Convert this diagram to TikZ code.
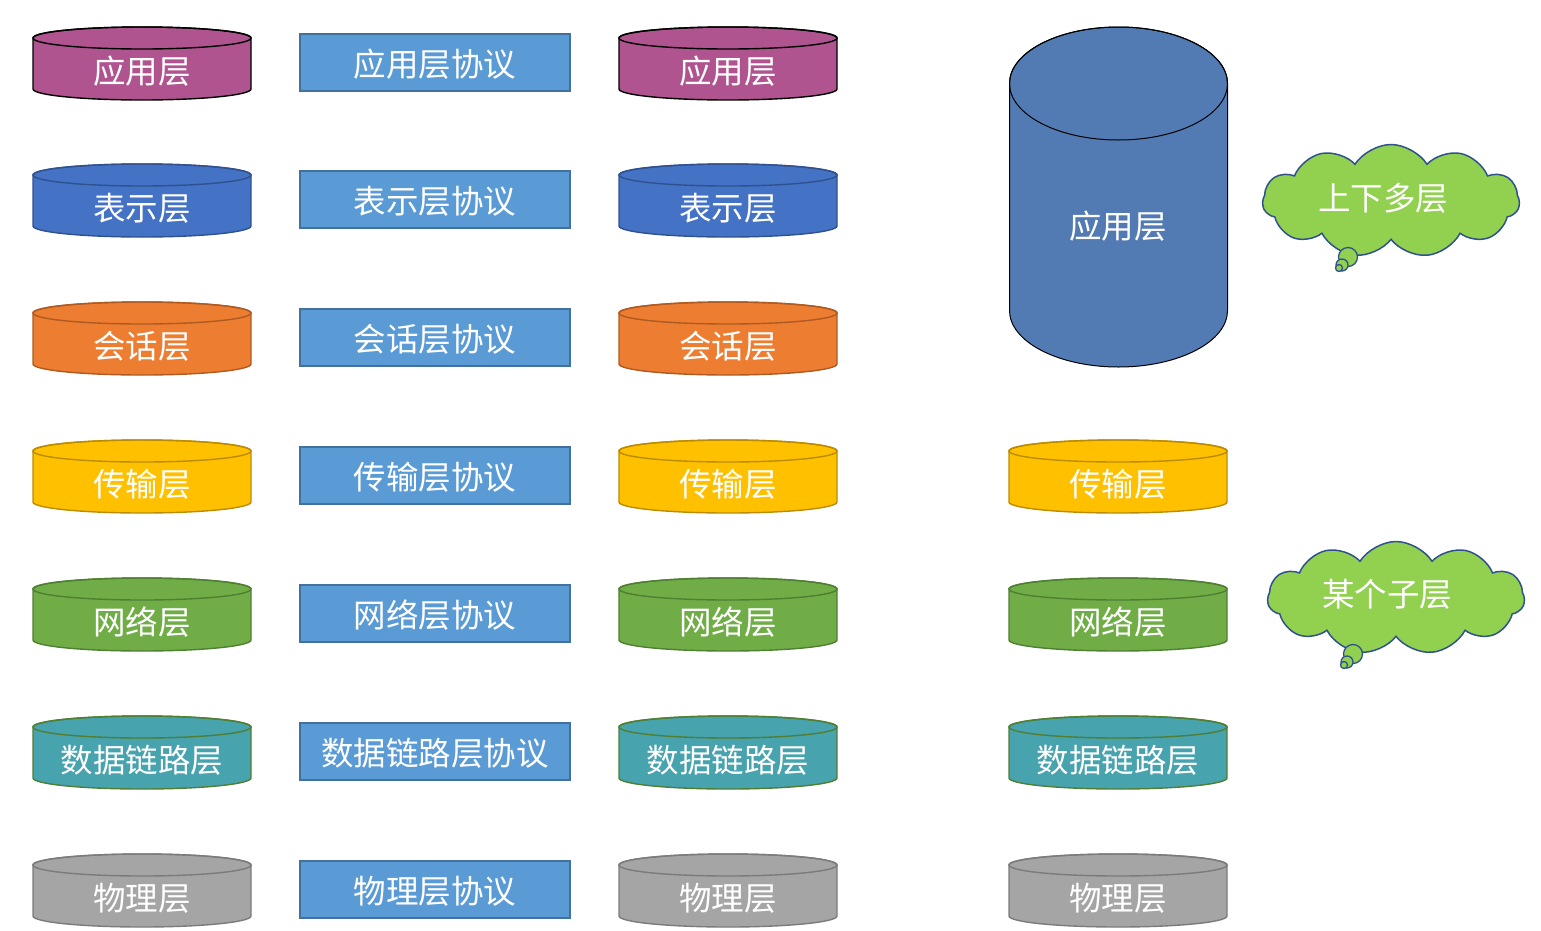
\documentclass[tikz,border=0pt]{standalone}
\usepackage{fontspec}
\newfontfamily\cjk{Noto Sans CJK SC}
\usetikzlibrary{shapes.symbols}
\definecolor{cApp}{HTML}{B05490}
\definecolor{cPre}{HTML}{4472C4}\definecolor{cPreD}{HTML}{2F528F}
\definecolor{cSes}{HTML}{ED7D31}\definecolor{cSesD}{HTML}{AE5A21}
\definecolor{cTra}{HTML}{FFC000}\definecolor{cTraD}{HTML}{BC8C00}
\definecolor{cNet}{HTML}{70AD47}\definecolor{cNetD}{HTML}{507E32}
\definecolor{cDat}{HTML}{47A3AD}
\definecolor{cPhy}{HTML}{A5A5A5}\definecolor{cPhyD}{HTML}{7B7B7B}
\definecolor{cRect}{HTML}{5B9BD5}\definecolor{cRectD}{HTML}{41719C}
\definecolor{cBig}{HTML}{527BB4}
\definecolor{cCloud}{HTML}{92D050}\definecolor{cCloudD}{HTML}{2F528F}
\newcommand\drum[9]{%
 \filldraw[fill=#7,draw=#8,line width=1.4] ({#2-#5},{-(#3+#6)}) -- ({#2-#5},{-(#4-#6)}) arc[start angle=180,end angle=360,x radius=#5,y radius=#6] -- ({#2+#5},{-(#3+#6)}) arc[start angle=0,end angle=180,x radius=#5,y radius=#6] -- cycle;
 \draw[draw=#8,line width=1.4] ({#2},{-(#3+#6)}) ellipse[x radius=#5,y radius=#6];
 \node[lbl] (#1) at ({#2},{-(#3+0.6*(#4-#3))}) {#9};
}
\newcommand\layerrow[6]{% #1 idx, #2 top, #3 fill, #4 draw, #5 text, #6 show col4
 \drum{a#1}{142}{#2}{#2+73}{109}{11}{#3}{#4}{#5}
 \node[proto] (p#1) at (435,{-(#2+35.5)}) {};
 \node[lbl] (q#1) at (435,{-(#2+37)}) {#5协议};
 \drum{b#1}{728}{#2}{#2+73}{109}{11}{#3}{#4}{#5}
 \ifnum#6=1 \drum{c#1}{1118}{#2}{#2+73}{109}{11}{#3}{#4}{#5}\fi
}
\begin{document}
\begin{tikzpicture}[x=1pt,y=1pt,
 lbl/.style={text=white,font=\cjk\fontsize{32.5}{38}\selectfont,inner sep=0pt},
 proto/.style={draw=cRectD,fill=cRect,line width=1.4,minimum width=270,minimum height=57,inner sep=0pt},
 thought/.style={cloud,cloud puffs=11,cloud puff arc=115,aspect=2.3,fill=cCloud,draw=cCloudD,line width=1.5,minimum width=257,minimum height=113},
 bubble/.style={circle,fill=cCloud,draw=cCloudD,line width=1.3,inner sep=0pt}]
\useasboundingbox (0,0) rectangle (1541,-930);
\layerrow{1}{27}{cApp}{black}{应用层}{0}
\layerrow{2}{164}{cPre}{cPreD}{表示层}{0}
\layerrow{3}{302}{cSes}{cSesD}{会话层}{0}
\layerrow{4}{440}{cTra}{cTraD}{传输层}{1}
\layerrow{5}{578}{cNet}{cNetD}{网络层}{1}
\layerrow{6}{716}{cDat}{cNetD}{数据链路层}{1}
\layerrow{7}{854}{cPhy}{cPhyD}{物理层}{1}
% big application cylinder
\filldraw[fill=cBig,draw=black,line width=1] (1009.5,-83.5) -- (1009.5,-310.5) arc[start angle=180,end angle=360,x radius=109,y radius=56.5] -- (1227.5,-83.5) arc[start angle=0,end angle=180,x radius=109,y radius=56.5] -- cycle;
\draw[black,line width=1] (1118.5,-83.5) ellipse[x radius=109,y radius=56.5];
\node[lbl] (big) at (1118,-226) {应用层};
% clouds
\node[thought] (cl1) at (1391,-201) {};
\node[lbl] (t1) at (1383,-198) {上下多层};
\node[bubble,minimum size=19] (b1a) at (1348,-257) {};
\node[bubble,minimum size=12] (b1b) at (1342,-265) {};
\node[bubble,minimum size=7] (b1c) at (1339,-268) {};
\node[thought] (cl2) at (1396,-598) {};
\node[lbl] (t2) at (1387,-594) {某个子层};
\node[bubble,minimum size=19] (b2a) at (1353,-654) {};
\node[bubble,minimum size=12] (b2b) at (1347,-662) {};
\node[bubble,minimum size=7] (b2c) at (1344,-665) {};
\end{tikzpicture}
\end{document}
